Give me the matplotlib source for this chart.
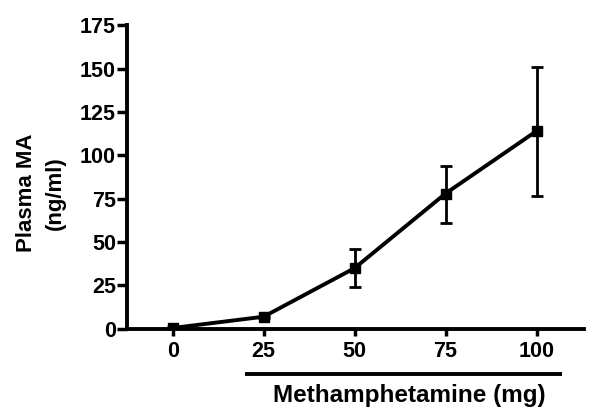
import matplotlib
matplotlib.use("Agg")
import matplotlib.pyplot as plt
import matplotlib.transforms as mtransforms

plt.rcParams['font.family'] = ['Liberation Sans', 'DejaVu Sans']
plt.rcParams['font.weight'] = 'bold'

# dose (mg) and plasma methamphetamine (ng/ml)
dose = [0, 25, 50, 75, 100]
plasma = [0.5, 7, 35, 78, 114]
err_low = [0.5, 0.5, 11, 17, 37.5]
err_high = [0.5, 0.5, 11, 16, 37]
bracket = [20, 107]  # extent of the "Methamphetamine" bar under the axis
label_x = 65

fig = plt.figure(figsize=(6, 4.2), dpi=100)
ax = fig.add_axes([0.212, 0.217, 0.761, 0.723])

ax.errorbar(dose, plasma, yerr=[err_low, err_high], color='black', lw=2.8,
            marker='s', markersize=7, elinewidth=2, capsize=4.5, capthick=2)

ax.set_xlim(-12.5, 113)
ax.set_ylim(0, 175)
ax.set_xticks(dose)
ax.set_yticks(range(0, 176, 25))
ax.tick_params(axis='both', labelsize=15.5, width=2.5, direction='out')
ax.tick_params(axis='x', length=5, pad=3.5)
ax.tick_params(axis='y', length=7, pad=1)
for lab in ax.get_xticklabels() + ax.get_yticklabels():
    lab.set_fontweight('bold')
ax.spines['top'].set_visible(False)
ax.spines['right'].set_visible(False)
ax.spines['left'].set_linewidth(2.8)
ax.spines['bottom'].set_linewidth(2.8)

# bar + label under the x axis
trans = mtransforms.blended_transform_factory(ax.transData, ax.transAxes)
ax.plot(bracket, [-0.148, -0.148], color='black', lw=2.8, transform=trans,
        clip_on=False, solid_capstyle='butt')
ax.text(label_x, -0.218, 'Methamphetamine (mg)', transform=trans,
        ha='center', va='center', fontsize=17.5, fontweight='bold')

fig.text(0.068, 0.54, 'Plasma MA\n(ng/ml)', rotation=90, ha='center',
         va='center', fontsize=16, fontweight='bold', multialignment='center',
         linespacing=1.45)

fig.savefig('out.png', dpi=100)
